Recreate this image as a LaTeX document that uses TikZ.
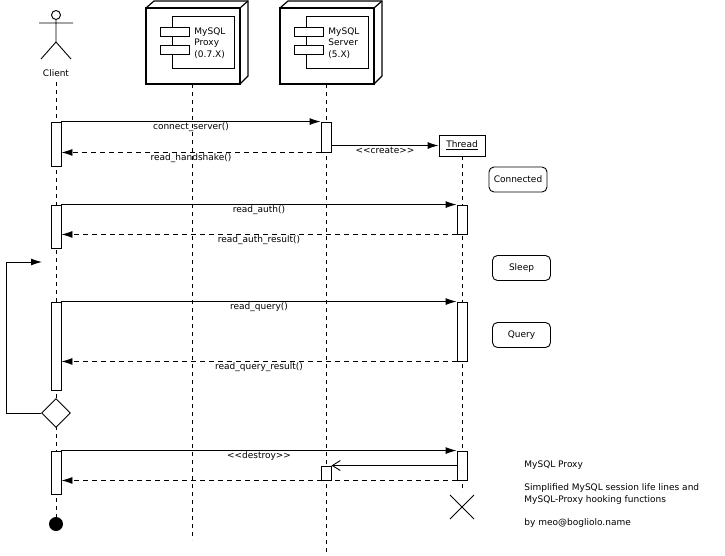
\documentclass[tikz,border=0pt]{standalone}
\usepackage{fontspec}
\setmainfont{DejaVu Sans}
\usetikzlibrary{arrows.meta,shapes.geometric,calc}
\begin{document}
\begin{tikzpicture}[x=1pt,y=-1pt,>={Latex[length=11pt,width=7pt]},line width=0.9pt,
  font=\fontsize{9}{12}\selectfont,
  life/.style={dash pattern=on 4pt off 4pt,line width=0.6pt},
  act/.style={draw,fill=white},
  msg/.style={->},
  ret/.style={->,dash pattern=on 5pt off 4pt},
  state/.style={draw,rounded corners=5pt,minimum width=58pt,minimum height=25pt,inner sep=0pt}]
\useasboundingbox (0,0) rectangle (725,555);
% lifelines
\coordinate (c0) at (56,82);   \coordinate (c1) at (56,520);
\coordinate (p0) at (192,84);  \coordinate (p1) at (192,540);
\coordinate (s0) at (326,84);  \coordinate (s1) at (326,555);
\coordinate (t0) at (462,156); \coordinate (t1) at (462,492);
\draw[life] (c0) -- (c1);
\draw[life] (p0) -- (p1);
\draw[life] (s0) -- (s1);
\draw[life] (t0) -- (t1);
% actor
\draw (56,15) circle (4.5);
\draw (56,19.5) -- (56,42) (39,23) -- (73,23) (41,59) -- (56,42) -- (71,59);
\node (client) at (56,73) {Client};
% nodes
\foreach \n/\x/\t in {proxy/146/{MySQL\\Proxy\\(0.7.X)}, server/280/{MySQL\\Server\\(5.X)}} {
  \draw[line width=1.2pt] (\x,8) -- (\x+8,1) -- (\x+102,1) -- (\x+102,76) -- (\x+94,84);
  \draw[line width=1.2pt] (\x+94,8) -- (\x+102,1);
  \draw[line width=1.2pt] (\x,8) rectangle (\x+94,84);
  \draw (\x+26,16) rectangle (\x+88,68);
  \draw[fill=white] (\x+14,27) rectangle (\x+43,36);
  \draw[fill=white] (\x+14,45) rectangle (\x+43,54);
  \node[align=left,anchor=west,inner sep=0pt,font=\fontsize{9}{11.5}\selectfont] (\n) at (\x+48,43) {\t};
}
\node[draw,fill=white,minimum width=46pt,minimum height=21pt,inner sep=0pt] (thread) at (462,145.5) {\underline{Thread}};
% activations
\node[act,minimum width=10pt,minimum height=44pt,inner sep=0pt] (a1) at (56,144) {};
\node[act,minimum width=10pt,minimum height=30pt,inner sep=0pt] (a2) at (326,137) {};
\node[act,minimum width=10pt,minimum height=43pt,inner sep=0pt] (a3) at (56,226.5) {};
\node[act,minimum width=10pt,minimum height=29pt,inner sep=0pt] (a4) at (462,219.5) {};
\node[act,minimum width=10pt,minimum height=88pt,inner sep=0pt] (a5) at (56,346) {};
\node[act,minimum width=10pt,minimum height=59pt,inner sep=0pt] (a6) at (462,331.5) {};
\node[act,minimum width=10pt,minimum height=43pt,inner sep=0pt] (a7) at (56,472.5) {};
\node[act,minimum width=10pt,minimum height=29pt,inner sep=0pt] (a8) at (462,465.5) {};
\node[act,minimum width=10pt,minimum height=14pt,inner sep=0pt] (a9) at (326,473) {};
% messages
\draw[msg] (a1.north east) -- node[pos=0.5,below=-3pt] {connect\_server()} (a2.north west);
\draw[ret] (a2.south west) -- node[below=-3pt] {read\_handshake()} (a1.east |- a2.south);
\draw[msg] (a2.east |- thread) -- node[below=-2pt] {{<}{<}create{>}{>}} (thread.west);
\draw[msg] (a3.north east) -- node[below=-3pt] {read\_auth()} (a4.north west);
\draw[ret] (a4.south west) -- node[below=-3pt] {read\_auth\_result()} (a3.east |- a4.south);
\draw[msg] (a5.north east) -- node[below=-3pt] {read\_query()} (a6.north west);
\draw[ret] (a6.south west) -- node[below=-3pt] {read\_query\_result()} (a5.east |- a6.south);
\draw[msg] (a7.north east) -- node[below=-3pt] {{<}{<}destroy{>}{>}} (a8.north west);
\draw[-{Straight Barb[length=8pt,width=10pt]}] (a8.west |- a9.north) -- (a9.north east);
\draw[ret] (a8.south west) -- (a7.east |- a8.south);
% loop
\node[draw,fill=white,diamond,minimum width=29pt,minimum height=29pt,inner sep=0pt] (loop) at (56,413) {};
\coordinate (back) at (42,262);
\draw[msg] (loop.west) -- (6,413) -- (6,262) -- (back);
% end
\fill (56,524) circle (7) node (final) {};
\coordinate (x) at (462,507);
\draw ($(x)+(-12,-12)$) -- ($(x)+(12,12)$) ($(x)+(-12,12)$) -- ($(x)+(12,-12)$);
% states
\node[state] (connected) at (518,179.5) {Connected};
\node[state] (sleep) at (521.5,268) {Sleep};
\node[state] (query) at (521.5,335) {Query};
% note
\node[align=left,anchor=north west,inner sep=0pt] (note) at (524,460) {MySQL Proxy\\[11pt]Simplified MySQL session life lines and\\MySQL-Proxy hooking functions\\[11pt]by meo@bogliolo.name};
\end{tikzpicture}
\end{document}
